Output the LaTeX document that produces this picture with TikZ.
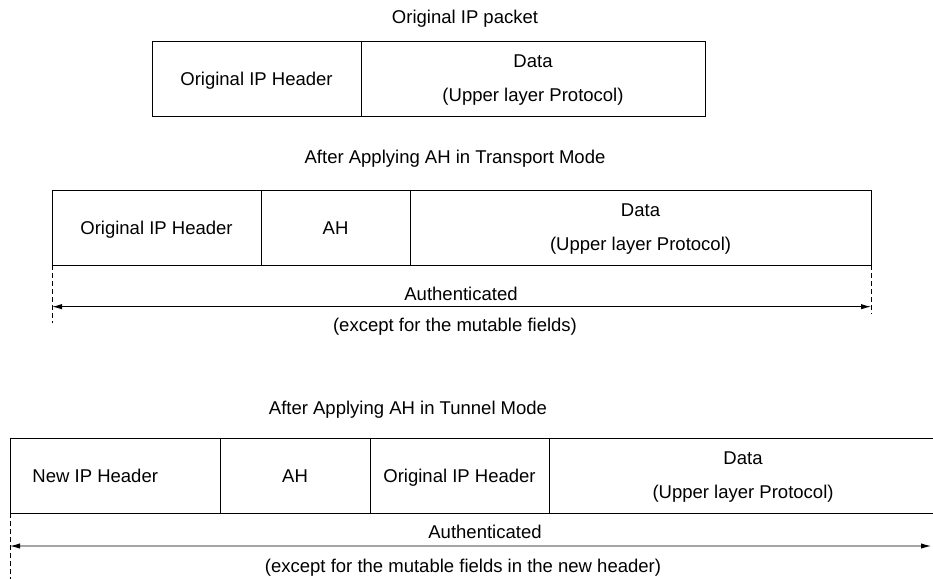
\documentclass[tikz,border=0pt]{standalone}
\usepackage{fontspec}
\setmainfont{Liberation Sans}
\usetikzlibrary{positioning,arrows.meta}

\tikzset{
    field/.style={draw, minimum height=2.25cm, inner sep=0pt, outer sep=0pt,
        line width=0.8pt, align=center, text depth=0pt},
    oneline/.style={text height=11.3pt, text depth=0pt},
    span/.style={{Latex[length=3mm,width=1.6mm]}-{Latex[length=3mm,width=1.6mm]},
        line width=0.8pt},
    guide/.style={dash pattern=on 0.15cm off 0.09cm, line width=0.6pt},
}

\begin{document}
\begin{tikzpicture}[x=0.03cm, y=-0.03cm, font=\fontsize{15.8}{29}\selectfont]
    \useasboundingbox (0,0) rectangle (933,578);
    \clip (0,0) rectangle (933,578);

    % Original packet
    \node (title1) at (465,19) {Original IP packet};
    \node[field, oneline, minimum width=6.27cm, anchor=north west] (oih1) at (152,41) {Original IP Header};
    \node[field, minimum width=10.32cm, right=0pt of oih1] (data1) {Data\\(Upper layer Protocol)};

    % Transport mode
    \node (title2) at (455,159) {After Applying AH in Transport Mode};
    \node[field, oneline, minimum width=6.27cm, anchor=north west] (oih2) at (52,190) {Original IP Header};
    \node[field, oneline, minimum width=4.47cm, right=0pt of oih2] (ah2) {AH};
    \node[field, minimum width=13.83cm, right=0pt of ah2] (data2) {Data\\(Upper layer Protocol)};

    % Authenticated range (transport)
    \coordinate (gl2) at ([yshift=-1.75cm]oih2.south west);
    \coordinate (gr2) at ([yshift=-1.45cm]data2.south east);
    \draw[guide] (oih2.south west) -- (gl2);
    \draw[guide] (data2.south east) -- (gr2);
    \coordinate (al2) at ([yshift=-1.25cm]oih2.south west);
    \coordinate (ar2) at ([yshift=-1.25cm]data2.south east);
    \draw[span] (al2) -- (ar2);
    \node (auth2) at (461,294) {Authenticated};
    \node (exc2) at (455,327) {(except for the mutable fields)};

    % Tunnel mode
    \node (title3) at (408,410) {After Applying AH in Tunnel Mode};
    \node[field, minimum width=6.3cm, anchor=north west] (nih3) at (10,438) {};
    \node[oneline, anchor=west, inner ysep=0pt] (nihtxt) at ([xshift=0.55cm]nih3.west) {New IP Header};
    \node[field, oneline, minimum width=4.5cm, right=0pt of nih3] (ah3) {AH};
    \node[field, oneline, minimum width=5.37cm, right=0pt of ah3] (oih3) {Original IP Header};
    \node[field, minimum width=11.64cm, right=0pt of oih3] (data3) {Data\\(Upper layer Protocol)};

    % Authenticated range (tunnel)
    \coordinate (gl3) at ([yshift=-2cm]nih3.south west);
    \draw[guide] (nih3.south west) -- (gl3);
    \coordinate (al3) at ([yshift=-0.99cm]nih3.south west);
    \coordinate (ar3) at (931,546);
    \draw[span] (al3) -- (ar3);
    \node (auth3) at (485,532) {Authenticated};
    \node (exc3) at (463,568) {(except for the mutable fields in the new header)};
\end{tikzpicture}
\end{document}
